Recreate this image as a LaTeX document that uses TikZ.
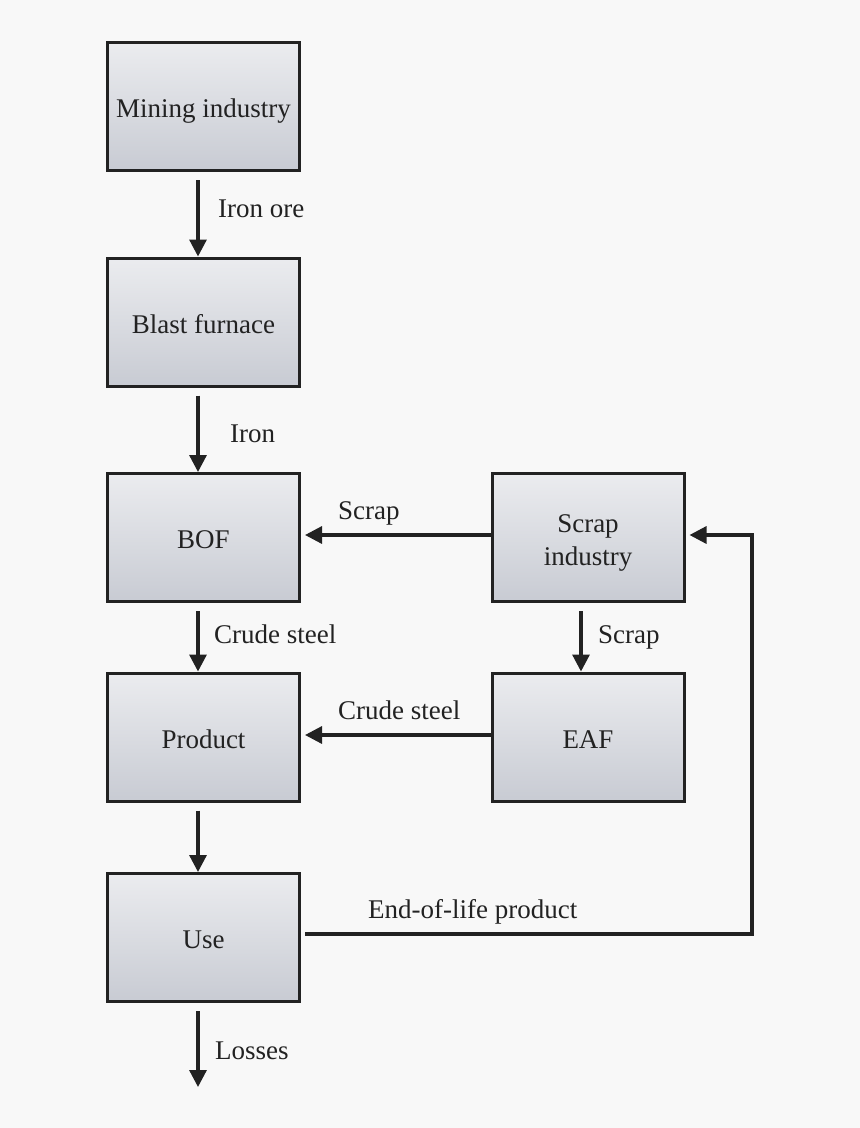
\documentclass[tikz,border=0pt]{standalone}
\usepackage{fontspec}
\setmainfont{Liberation Serif}
\usetikzlibrary{arrows.meta}
\definecolor{bg}{HTML}{F8F8F8}
\definecolor{boxtop}{HTML}{EBECEF}
\definecolor{boxbot}{HTML}{C8CBD3}
\definecolor{ink}{HTML}{222222}
\newcommand\boxtext[1]{\raisebox{-11pt}[0pt][0pt]{\begin{tabular}{@{}c@{}}#1\end{tabular}}}
\tikzset{
  unit/.style={draw=ink, line width=3pt, top color=boxtop, bottom color=boxbot,
    minimum width=192pt, minimum height=128pt, inner sep=0pt, align=center,
    text=ink, font=\fontsize{27}{33}\selectfont},
  flow/.style={draw=ink, line width=3.2pt, -{Triangle[length=17pt,width=17pt]}},
  lab/.style={anchor=base west, inner sep=0pt, text=ink, font=\fontsize{27}{31}\selectfont}
}
\begin{document}
\begin{tikzpicture}[x=1pt,y=-1pt]
\fill[bg] (0,0) rectangle (860,1128);
\useasboundingbox (0,0) rectangle (860,1128);
\node[unit] (mine) at (203.5,106.5) {\boxtext{Mining industry}};
\node[unit] (blast) at (203.5,322) {\boxtext{Blast furnace}};
\node[unit] (bof) at (203.5,537.5) {\boxtext{BOF}};
\node[unit] (prod) at (203.5,737) {\boxtext{Product}};
\node[unit] (use) at (203.5,937.5) {\boxtext{Use}};
\node[unit] (scrap) at (588,537.5) {\boxtext{Scrap\\industry}};
\node[unit] (eaf) at (588,737) {\boxtext{EAF}};
\coordinate (loss) at (198,1087);
\coordinate (c1) at (752,934);
\coordinate (c2) at (752,535);

\draw[flow] ([xshift=-5.5pt,yshift=-8pt]mine.south) -- ([xshift=-5.5pt]blast.north);
\draw[flow] ([xshift=-5.5pt,yshift=-8pt]blast.south) -- ([xshift=-5.5pt]bof.north);
\draw[flow] ([xshift=-5.5pt,yshift=-8pt]bof.south) -- ([xshift=-5.5pt]prod.north);
\draw[flow] ([xshift=-5.5pt,yshift=-8pt]prod.south) -- ([xshift=-5.5pt]use.north);
\draw[flow] ([xshift=-5.5pt,yshift=-8pt]use.south) -- (loss);
\draw[flow] ([xshift=-7pt,yshift=-8pt]scrap.south) -- ([xshift=-7pt]eaf.north);
\draw[flow] ([yshift=2.5pt]scrap.west) -- ([xshift=4pt,yshift=2.5pt]bof.east);
\draw[flow] ([yshift=2pt]eaf.west) -- ([xshift=4pt,yshift=2pt]prod.east);
\draw[flow] ([xshift=4pt,yshift=3.5pt]use.east) -- (c1) -- (c2) -- ([xshift=4pt,yshift=2.5pt]scrap.east);

\node[lab] (l1) at (218,217) {Iron ore};
\node[lab] (l2) at (230,442) {Iron};
\node[lab] (l3) at (338,519) {Scrap};
\node[lab] (l4) at (214,643) {Crude steel};
\node[lab] (l5) at (598,643) {Scrap};
\node[lab] (l6) at (338,719) {Crude steel};
\node[lab] (l7) at (368,918) {End-of-life product};
\node[lab] (l8) at (215,1059) {Losses};
\end{tikzpicture}
\end{document}
